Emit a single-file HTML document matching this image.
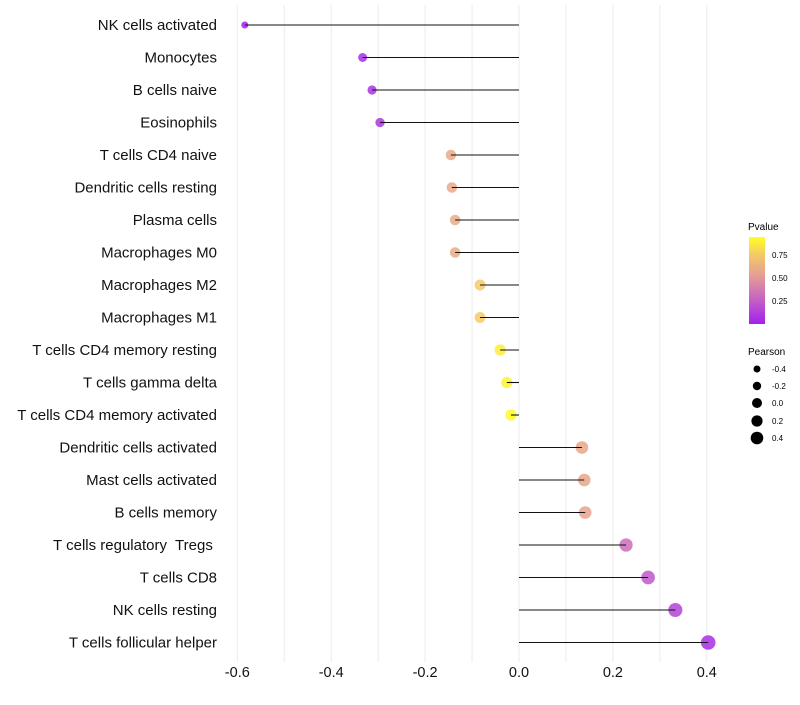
<!DOCTYPE html>
<html><head><meta charset="utf-8"><style>
body{margin:0;background:#fff;font-family:"Liberation Sans",sans-serif;}
</style></head><body>
<svg id="c" width="800" height="700" xmlns="http://www.w3.org/2000/svg">
<defs><linearGradient id="pg" x1="0" y1="1" x2="0" y2="0">
<stop offset="0" stop-color="#a020f0"/><stop offset="0.3" stop-color="#c866c0"/><stop offset="0.55" stop-color="#e49c94"/><stop offset="0.8" stop-color="#f4ca68"/><stop offset="1" stop-color="#ffff20"/>
</linearGradient></defs>
<g id="grid"></g><g id="marks"></g><g id="ylab"></g><g id="xlab"></g>
<g>
<text x="748" y="230" font-size="10">Pvalue</text>
<rect x="749" y="237" width="16" height="87" fill="url(#pg)"/>
<text x="772" y="258" font-size="8">0.75</text>
<text x="772" y="281" font-size="8">0.50</text>
<text x="772" y="304" font-size="8">0.25</text>
</g>
<g>
<text x="748" y="355" font-size="10">Pearson</text>
<circle cx="757" cy="369" r="3.5"/><text x="772" y="372" font-size="8">-0.4</text>
<circle cx="757" cy="386" r="4.2"/><text x="772" y="389" font-size="8">-0.2</text>
<circle cx="757" cy="403" r="5"/><text x="772" y="406" font-size="8">0.0</text>
<circle cx="757" cy="421" r="5.6"/><text x="772" y="424" font-size="8">0.2</text>
<circle cx="757" cy="438" r="6.3"/><text x="772" y="441" font-size="8">0.4</text>
</g>
</svg>
<script>
const categories=["NK cells activated","Monocytes","B cells naive","Eosinophils","T cells CD4 naive","Dendritic cells resting","Plasma cells","Macrophages M0","Macrophages M2","Macrophages M1","T cells CD4 memory resting","T cells gamma delta","T cells CD4 memory activated","Dendritic cells activated","Mast cells activated","B cells memory","T cells regulatory  Tregs ","T cells CD8","NK cells resting","T cells follicular helper"];
const pearson=[-0.584,-0.333,-0.313,-0.296,-0.145,-0.143,-0.136,-0.136,-0.083,-0.083,-0.04,-0.026,-0.017,0.134,0.139,0.141,0.228,0.275,0.333,0.403];
const pvalue=[0.0,0.06,0.08,0.1,0.62,0.62,0.63,0.63,0.8,0.8,0.93,0.96,0.99,0.6,0.6,0.59,0.33,0.24,0.15,0.06];
const xTicks=[-0.6,-0.4,-0.2,0.0,0.2,0.4];
const xTickLabels=["-0.6","-0.4","-0.2","0.0","0.2","0.4"];
const NS="http://www.w3.org/2000/svg";
const x=v=>519+v*469.5;
const y=i=>25+i*32.5;
const stops=[[0,[160,32,240]],[0.3,[200,102,192]],[0.55,[228,156,148]],[0.8,[244,202,104]],[1,[255,255,32]]];
function col(p){for(let k=1;k<stops.length;k++){if(p<=stops[k][0]){const a=stops[k-1],b=stops[k],t=(p-a[0])/(b[0]-a[0]);return 'rgb('+a[1].map((c,j)=>Math.round(c+(b[1][j]-c)*t)).join(',')+')';}}return 'rgb(255,255,32)';}
function mk(t,a,parent){const e=document.createElementNS(NS,t);for(const k in a)e.setAttribute(k,a[k]);parent.appendChild(e);return e;}
const G=document.getElementById('grid'),M=document.getElementById('marks'),YL=document.getElementById('ylab'),XL=document.getElementById('xlab');
for(let v=-0.6;v<=0.45;v+=0.1){const l=mk('line',{x1:x(v),x2:x(v),y1:5,y2:662,stroke:'#ebebeb','stroke-width':1},G);

}
xTicks.forEach((v,i)=>{const t=mk('text',{x:x(v),y:677,'font-size':14.5,'text-anchor':'middle',fill:'#111'},XL);t.textContent=xTickLabels[i];

});
categories.forEach((c,i)=>{
const t=mk('text',{x:217,y:y(i)+5,'font-size':15,'text-anchor':'end',fill:'#111'},YL);t.textContent=c;
t.style.whiteSpace='pre';


const r=Math.max(1.5,5.77+3.8*pearson[i]);
const p=mk('circle',{cx:x(pearson[i]),cy:y(i),r:r,fill:col(pvalue[i]),'fill-opacity':0.85},M);


const s=mk('line',{x1:x(0),x2:x(pearson[i]),y1:y(i),y2:y(i),stroke:'#111','stroke-width':1.1},M);


});
</script>
</body></html>
